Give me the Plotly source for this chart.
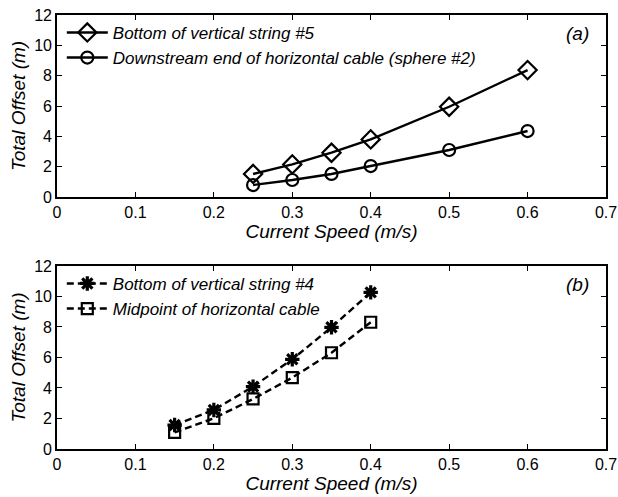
import plotly.graph_objects as go

# Panel (a): horizontal-cable configuration
speed_a = [0.25, 0.3, 0.35, 0.4, 0.5, 0.6]
string5_offset = [1.52, 2.15, 2.92, 3.80, 5.95, 8.37]
sphere2_offset = [0.79, 1.12, 1.52, 2.04, 3.10, 4.35]

# Panel (b): midpoint configuration
speed_b = [0.15, 0.2, 0.25, 0.3, 0.35, 0.4]
string4_offset = [1.57, 2.56, 4.09, 5.88, 7.98, 10.27]
midpoint_offset = [1.09, 2.01, 3.28, 4.68, 6.31, 8.31]

x_ticks = [0, 0.1, 0.2, 0.3, 0.4, 0.5, 0.6, 0.7]
y_ticks = [0, 2, 4, 6, 8, 10, 12]

FONT = "Liberation Sans, Arial, Helvetica, sans-serif"
DASH = "7px,4px"

fig = go.Figure()

fig.add_trace(go.Scatter(
    x=speed_a, y=string5_offset, mode="lines+markers",
    name="<i>Bottom of vertical string #5</i>",
    line=dict(color="black", width=2.4),
    marker=dict(symbol="diamond-open", size=14, color="black", line=dict(width=2.2)),
    xaxis="x", yaxis="y", legend="legend",
))
fig.add_trace(go.Scatter(
    x=speed_a, y=sphere2_offset, mode="lines+markers",
    name="<i>Downstream end of horizontal cable (sphere #2)</i>",
    line=dict(color="black", width=2.4),
    marker=dict(symbol="circle-open", size=12, color="black", line=dict(width=2.2)),
    xaxis="x", yaxis="y", legend="legend",
))
fig.add_trace(go.Scatter(
    x=speed_b, y=string4_offset, mode="lines+markers",
    name="<i>Bottom of vertical string #4</i>",
    line=dict(color="black", width=2.4, dash=DASH),
    marker=dict(symbol="asterisk-open", size=12, color="black", line=dict(width=3.2, color="black")),
    xaxis="x2", yaxis="y2", legend="legend2",
))
fig.add_trace(go.Scatter(
    x=speed_b, y=midpoint_offset, mode="lines+markers",
    name="<i>Midpoint of horizontal cable</i>",
    line=dict(color="black", width=2.4, dash=DASH),
    marker=dict(symbol="square-open", size=11, color="black", line=dict(width=2.2)),
    xaxis="x2", yaxis="y2", legend="legend2",
))

axis_common = dict(
    showline=True, linecolor="black", linewidth=1.5, mirror="allticks",
    ticks="inside", ticklen=5, tickcolor="black", tickwidth=1,
    showgrid=False, zeroline=False, automargin=False,
    tickfont=dict(family=FONT, size=16, color="black"),
)

x_title = dict(text="<i>Current Speed (m/s)</i>", font=dict(size=19), standoff=0)
y_title = dict(text="<i>Total Offset (m)</i>", font=dict(size=19), standoff=4)
legend_style = dict(xanchor="left", yanchor="top", bgcolor="rgba(0,0,0,0)",
                    font=dict(size=17, family=FONT), tracegroupgap=0, itemwidth=41)

x_domain = [0.0922, 0.9806]
fig.update_layout(
    width=618, height=497,
    margin=dict(l=0, r=0, t=0, b=0),
    plot_bgcolor="white", paper_bgcolor="white",
    font=dict(family=FONT, color="black"),
    xaxis=dict(domain=x_domain, range=[0, 0.7], tickvals=x_ticks,
               ticktext=[f"{v:g}" for v in x_ticks], anchor="y",
               title=x_title, **axis_common),
    yaxis=dict(domain=[0.6036, 0.9698], range=[0, 12], tickvals=y_ticks, anchor="x",
               title=y_title, **axis_common),
    xaxis2=dict(domain=x_domain, range=[0, 0.7], tickvals=x_ticks,
                ticktext=[f"{v:g}" for v in x_ticks], anchor="y2",
                title=x_title, **axis_common),
    yaxis2=dict(domain=[0.0966, 0.4648], range=[0, 12], tickvals=y_ticks, anchor="x2",
                title=y_title, **axis_common),
    legend=dict(x=0.100, y=0.97, **legend_style),
    legend2=dict(x=0.100, y=0.465, **legend_style),
    showlegend=True,
    annotations=[
        dict(text="<i>(a)</i>", xref="x domain", yref="y domain", x=0.972, y=0.9,
             xanchor="right", yanchor="middle", showarrow=False, font=dict(size=19)),
        dict(text="<i>(b)</i>", xref="x2 domain", yref="y2 domain", x=0.972, y=0.9,
             xanchor="right", yanchor="middle", showarrow=False, font=dict(size=19)),
    ],
)

fig.write_html("out.html")
